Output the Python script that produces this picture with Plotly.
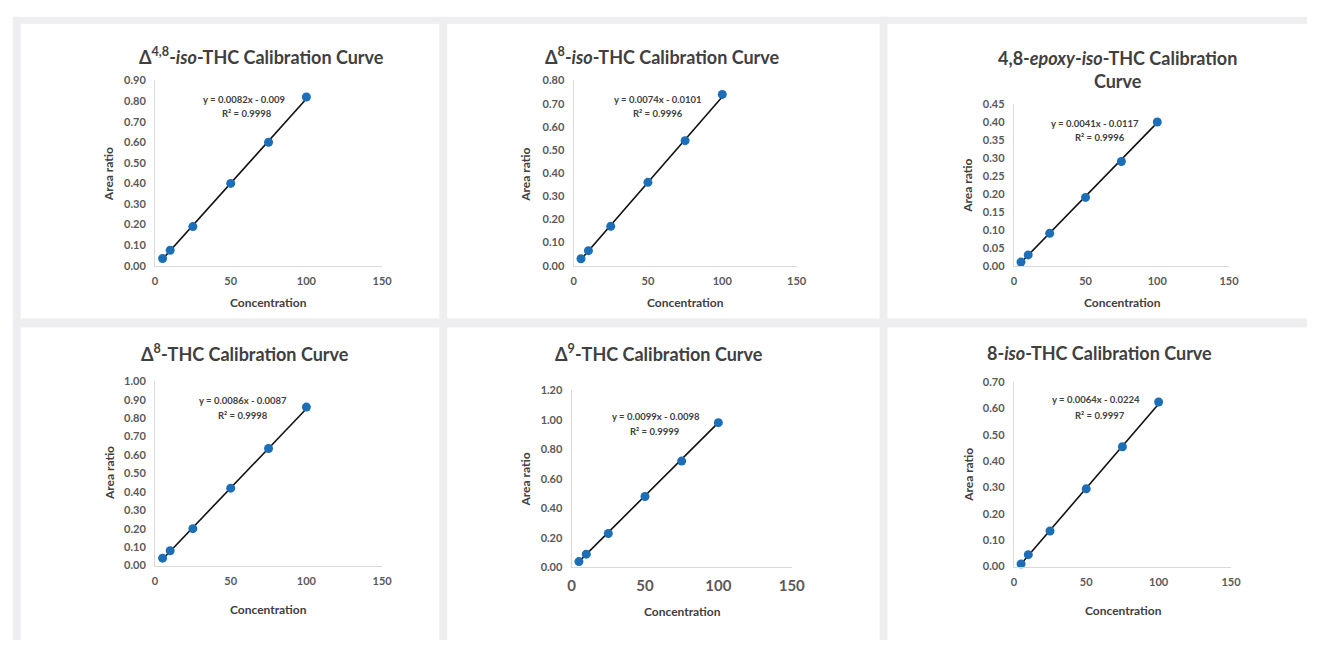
import plotly.graph_objects as go

W, H = 1320, 646

# ---------------- data ----------------
concentration = [5, 10, 25, 50, 75, 100]

titles = [
    "Δ<sup>4,8</sup>-<i>iso</i>-THC Calibration Curve",
    "Δ<sup>8</sup>-<i>iso</i>-THC Calibration Curve",
    "4,8-<i>epoxy</i>-<i>iso</i>-THC Calibration<br>Curve",
    "Δ<sup>8</sup>-THC Calibration Curve",
    "Δ<sup>9</sup>-THC Calibration Curve",
    "8-<i>iso</i>-THC Calibration Curve",
]

ratio_d48_iso = [0.035, 0.075, 0.19, 0.40, 0.60, 0.82]
ratio_d8_iso = [0.03, 0.065, 0.17, 0.36, 0.54, 0.74]
ratio_epoxy_iso = [0.01, 0.03, 0.09, 0.19, 0.29, 0.40]
ratio_d8 = [0.04, 0.08, 0.20, 0.42, 0.635, 0.86]
ratio_d9 = [0.04, 0.09, 0.23, 0.48, 0.72, 0.98]
ratio_8iso = [0.01, 0.045, 0.135, 0.295, 0.455, 0.625]
series = [ratio_d48_iso, ratio_d8_iso, ratio_epoxy_iso, ratio_d8, ratio_d9, ratio_8iso]

slopes = [0.0082, 0.0074, 0.0041, 0.0086, 0.0099, 0.0064]
intercepts = [-0.009, -0.0101, -0.0117, -0.0087, -0.0098, -0.0224]
equations = ["y = 0.0082x - 0.009", "y = 0.0074x - 0.0101", "y = 0.0041x - 0.0117",
             "y = 0.0086x - 0.0087", "y = 0.0099x - 0.0098", "y = 0.0064x - 0.0224"]
r2_labels = ["R² = 0.9998", "R² = 0.9996", "R² = 0.9996",
             "R² = 0.9998", "R² = 0.9999", "R² = 0.9997"]

y_max = [0.90, 0.80, 0.45, 1.00, 1.20, 0.70]
y_step = [0.10, 0.10, 0.05, 0.10, 0.20, 0.10]
x_ticks = [0, 50, 100, 150]

# ---------------- layout geometry (pixels) ----------------
plot_boxes = [  # left, right, top, bottom
    (153, 383, 75, 264),
    (577, 803, 75, 264),
    (1023, 1241, 99, 264),
    (153, 383, 382, 570),
    (575, 798, 391, 572),
    (1023, 1243, 383, 571),
]
gray_strips = [  # x0, x1, y0, y1 : light separators between the panels
    (9, 17, 10, 646), (441, 449, 10, 646), (887, 895, 10, 646),
    (9, 1320, 10, 17), (9, 1320, 318, 327),
]
title_pos = [(261, 50), (667, 50), (1128, 64), (244, 353), (664, 353), (1110, 353)]
xtitle_pos = [(268, 302), (690, 302), (1133, 302), (268, 615), (687, 617), (1134, 616)]
ytitle_pos = [(106, 171), (528, 171), (976, 182), (107, 476), (528, 482), (977, 477)]
eq_pos = [((244, 94), (246, 109)), ((663, 94), (663, 109)), ((1105, 119), (1110, 133)),
          ((242, 402), (242, 417)), ((660, 418), (659, 433)), ((1106, 401), (1110, 417))]
xtick_size = [11, 11, 11, 11, 15, 11]

FONT = "Lato"
TXT = "#404040"
TICK = "#595959"
AXIS = "#d9d9d9"
MARK = "#1c6fb6"
STRIP = "#eeeef0"

def px(x):
    return x / W

def py(y):
    return 1 - y / H

fig = go.Figure()
shapes, annotations = [], []

for (x0, x1, y0, y1) in gray_strips:
    shapes.append(dict(type="rect", xref="paper", yref="paper", layer="below",
                       x0=px(x0), x1=px(x1), y0=py(y1), y1=py(y0),
                       fillcolor=STRIP, line=dict(width=0)))

for i in range(6):
    n = "" if i == 0 else str(i + 1)
    xa, ya = "x" + n, "y" + n
    l, r, t, b = plot_boxes[i]
    fig.update_layout(**{
        "xaxis" + n: dict(domain=[px(l), px(r)], range=[0, 150], tickvals=x_ticks,
                          showgrid=False, zeroline=False, showline=True, linecolor=AXIS,
                          linewidth=1, ticks="", anchor=ya, fixedrange=True,
                          ticklabelstandoff=5,
                          tickfont=dict(family=FONT, size=xtick_size[i], color=TICK, weight=700)),
        "yaxis" + n: dict(domain=[py(b), py(t)], range=[0, y_max[i]], dtick=y_step[i],
                          tick0=0, tickformat=".2f", showgrid=False, zeroline=False,
                          showline=True, linecolor=AXIS, linewidth=1, ticks="",
                          anchor=xa, fixedrange=True, ticklabelstandoff=6,
                          tickfont=dict(family=FONT, size=11, color=TICK, weight=700)),
    })
    xs = [concentration[0], concentration[-1]]
    fit = [slopes[i] * v + intercepts[i] for v in xs]
    fig.add_trace(go.Scatter(x=xs, y=fit, mode="lines", xaxis=xa, yaxis=ya,
                             line=dict(color="#111111", width=1.6),
                             showlegend=False, hoverinfo="skip", cliponaxis=False))
    fig.add_trace(go.Scatter(x=concentration, y=series[i], mode="markers", xaxis=xa, yaxis=ya,
                             marker=dict(color=MARK, size=9), showlegend=False,
                             cliponaxis=False))

    tx, ty = title_pos[i]
    annotations.append(dict(text=titles[i], x=px(tx), y=py(ty), xref="paper", yref="paper",
                            showarrow=False, xanchor="center", yanchor="middle",
                            font=dict(family=FONT, size=18, color=TXT, weight=700)))
    cx, cy = xtitle_pos[i]
    annotations.append(dict(text="Concentration", x=px(cx), y=py(cy), xref="paper", yref="paper",
                            showarrow=False, xanchor="center", yanchor="middle",
                            font=dict(family=FONT, size=12, color=TXT, weight=700)))
    ax_, ay_ = ytitle_pos[i]
    annotations.append(dict(text="Area ratio", x=px(ax_), y=py(ay_), xref="paper", yref="paper",
                            showarrow=False, xanchor="center", yanchor="middle", textangle=-90,
                            font=dict(family=FONT, size=12, color=TXT, weight=700)))
    (e1x, e1y), (e2x, e2y) = eq_pos[i]
    annotations.append(dict(text=equations[i], x=px(e1x), y=py(e1y), xref="paper", yref="paper",
                            showarrow=False, xanchor="center", yanchor="middle",
                            font=dict(family=FONT, size=9.5, color=TXT, weight=700)))
    annotations.append(dict(text=r2_labels[i], x=px(e2x), y=py(e2y), xref="paper", yref="paper",
                            showarrow=False, xanchor="center", yanchor="middle",
                            font=dict(family=FONT, size=9.5, color=TXT, weight=700)))

fig.update_layout(width=W, height=H, margin=dict(l=0, r=0, t=0, b=0),
                  paper_bgcolor="white", plot_bgcolor="white",
                  shapes=shapes, annotations=annotations, showlegend=False)

fig.write_html("out.html", config={"displayModeBar": False},
               post_script="document.body.style.margin='0';document.body.style.padding='0';"
                           "document.body.style.overflow='hidden';"
                           "document.documentElement.style.overflow='hidden';")
